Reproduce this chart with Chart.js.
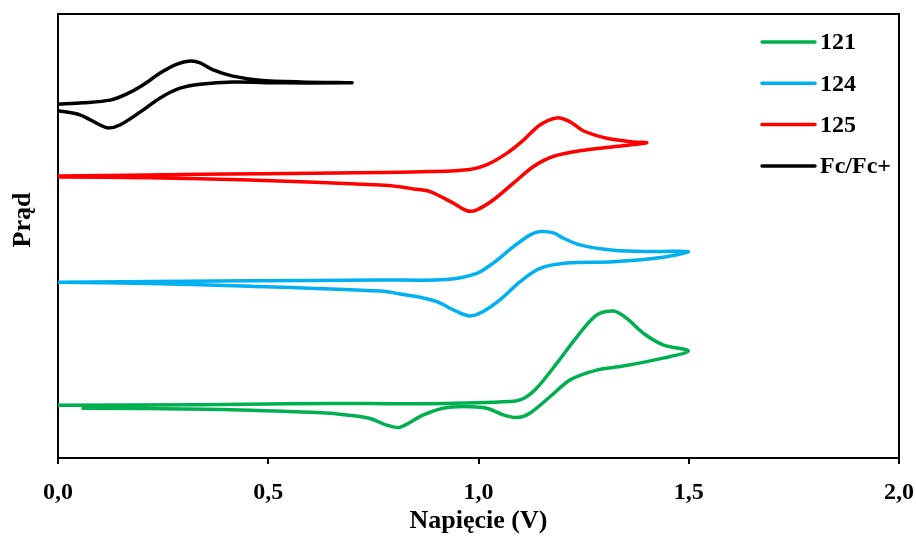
<!DOCTYPE html>
<html>
<head>
<meta charset="utf-8">
<title>Woltamperogramy cykliczne</title>
<script src="https://cdn.jsdelivr.net/npm/chart.js@4.4.1/dist/chart.umd.min.js"></script>
<style>
  html, body { margin: 0; padding: 0; background: #ffffff; }
  #wrap { width: 916px; height: 538px; }
</style>
</head>
<body>
<div id="wrap"><canvas id="cv" width="916" height="538"></canvas></div>
<script>
// Cyclic voltammograms: potential (V) and current (arbitrary units, curves offset vertically).
const potential121 = [0, 0.338, 0.55, 0.742, 0.885, 1.075, 1.107, 1.138, 1.186, 1.234, 1.281, 1.321, 1.352, 1.392, 1.439, 1.499,
                      1.439, 1.344, 1.281, 1.218, 1.170, 1.122, 1.091, 1.059, 1.020, 0.964, 0.916, 0.869, 0.813, 0.782, 0.742, 0.687, 0.647, 0.55, 0.354, 0.056];
const current121   = [11.9, 12.0, 12.2, 12.3, 12.2, 12.7, 13.4, 15.7, 21.3, 27.3, 32.2, 33.1, 31.5, 28.1, 25.5, 24.1,
                      22.5, 20.7, 19.8, 17.6, 13.8, 10.1, 9.1, 9.7, 11.2, 11.6, 11.2, 9.7, 6.9, 7.4, 8.9, 9.7, 10.1, 10.5, 11.0, 11.2];

const potential124 = [0, 0.457, 0.766, 0.924, 0.996, 1.035, 1.083, 1.122, 1.146, 1.178, 1.202, 1.241, 1.321, 1.416, 1.499,
                      1.439, 1.321, 1.210, 1.146, 1.099, 1.051, 1.011, 0.980, 0.948, 0.901, 0.861, 0.829, 0.766, 0.457, 0.219, 0];
const current124   = [39.6, 39.9, 40.1, 40.2, 41.6, 43.9, 47.6, 50.2, 51.0, 50.7, 49.5, 48.0, 46.8, 46.5, 46.5,
                      45.2, 44.2, 43.9, 42.7, 39.7, 35.6, 33.0, 32.0, 33.0, 35.2, 36.2, 36.7, 37.6, 38.7, 39.3, 39.6];

const potential125 = [0, 0.338, 0.766, 0.885, 0.980, 1.019, 1.067, 1.107, 1.146, 1.186, 1.218, 1.249, 1.305, 1.367, 1.400,
                      1.321, 1.241, 1.177, 1.130, 1.083, 1.035, 0.996, 0.972, 0.940, 0.885, 0.845, 0.813, 0.766, 0.457, 0.219, 0];
const current125   = [63.5, 63.9, 64.3, 64.5, 65.0, 66.0, 68.6, 71.6, 75.0, 76.6, 75.7, 73.7, 72.0, 71.2, 71.0,
                      70.1, 69.2, 67.9, 65.6, 61.9, 58.1, 55.9, 55.7, 57.4, 60.0, 60.6, 61.1, 61.5, 62.6, 63.1, 63.3];

const potentialFc  = [0, 0.059, 0.124, 0.164, 0.202, 0.243, 0.283, 0.314, 0.338, 0.369, 0.416, 0.480, 0.576, 0.699,
                      0.528, 0.416, 0.338, 0.290, 0.243, 0.195, 0.147, 0.119, 0.100, 0.052, 0];
const currentFc    = [79.7, 80.0, 80.6, 82.0, 84.0, 86.7, 88.7, 89.4, 89.0, 87.4, 86.0, 85.1, 84.7, 84.5,
                      84.5, 84.7, 84.2, 83.3, 81.1, 77.9, 75.0, 74.3, 75.0, 77.3, 78.2];

const seriesNames  = ['121', '124', '125', 'Fc/Fc+'];
const seriesColors = ['#00B050', '#00B0F0', '#FF0000', '#000000'];
const xTicks       = [0, 0.5, 1.0, 1.5, 2.0];
const xTitle = 'Napięcie (V)';
const yTitle = 'Prąd';

const FONT = "'Liberation Serif', 'Times New Roman', serif";

function pairs(xs, ys) { return xs.map((x, i) => ({ x: x, y: ys[i] })); }

const curves = [
  pairs(potential121, current121),
  pairs(potential124, current124),
  pairs(potential125, current125),
  pairs(potentialFc, currentFc)
];

const datasets = curves.map((pts, i) => ({
  label: seriesNames[i],
  data: pts,
  showLine: true,
  borderColor: seriesColors[i],
  backgroundColor: seriesColors[i],
  borderWidth: 3.5,
  pointRadius: 0,
  pointHoverRadius: 0,
  tension: 0.3,
  fill: false
}));

// Black box around the plot area
const frame = {
  id: 'frame',
  beforeDatasetsDraw(chart) {
    const { ctx, chartArea: a } = chart;
    ctx.save();
    ctx.strokeStyle = '#000';
    ctx.lineWidth = 2;
    ctx.strokeRect(a.left, a.top, a.right - a.left, a.bottom - a.top);
    ctx.restore();
  }
};

// Vertical axis caption and the legend inside the plot area
const labels = {
  id: 'labels',
  afterDraw(chart) {
    const { ctx, chartArea: a } = chart;
    ctx.save();
    ctx.fillStyle = '#000';
    ctx.font = 'bold 26px ' + FONT;
    ctx.textAlign = 'center';
    ctx.textBaseline = 'middle';
    ctx.translate(a.left - 35, (a.top + a.bottom) / 2 - 16);
    ctx.rotate(-Math.PI / 2);
    ctx.fillText(yTitle, 0, 0);
    ctx.restore();

    ctx.save();
    ctx.font = 'bold 24px ' + FONT;
    ctx.textAlign = 'left';
    ctx.textBaseline = 'middle';
    chart.data.datasets.forEach((ds, i) => {
      const y = a.top + 28 + i * 41.3;
      const x0 = a.right - 137;
      ctx.strokeStyle = ds.borderColor;
      ctx.lineWidth = 3.5;
      ctx.lineCap = 'round';
      ctx.beginPath();
      ctx.moveTo(x0, y);
      ctx.lineTo(x0 + 53, y);
      ctx.stroke();
      ctx.fillStyle = '#000';
      ctx.fillText(ds.label, x0 + 58, y + 1);
    });
    ctx.restore();
  }
};

new Chart(document.getElementById('cv').getContext('2d'), {
  type: 'scatter',
  data: { datasets: datasets },
  options: {
    responsive: false,
    animation: false,
    devicePixelRatio: 1,
    layout: { padding: { left: 0, right: 17, top: 14, bottom: 0 } },
    plugins: { legend: { display: false }, tooltip: { enabled: false } },
    events: [],
    scales: {
      x: {
        type: 'linear',
        min: 0,
        max: 2,
        afterFit(scale) {
          scale.height = 80;
          scale.paddingLeft = 0;
          scale.paddingRight = 0;
        },
        afterBuildTicks(scale) { scale.ticks = xTicks.map(v => ({ value: v })); },
        ticks: {
          color: '#000',
          font: { family: FONT, size: 24, weight: 'bold', lineHeight: 1.2 },
          padding: 14,
          maxRotation: 0,
          autoSkip: false,
          callback: v => v.toFixed(1).replace('.', ',')
        },
        grid: { display: true, drawOnChartArea: false, drawTicks: true, tickLength: 6, color: '#000', lineWidth: 2 },
        border: { display: false },
        title: {
          display: true,
          text: xTitle,
          color: '#000',
          font: { family: FONT, size: 26, weight: 'bold', lineHeight: 1.2 },
          padding: { top: 0, bottom: 1 }
        }
      },
      y: {
        type: 'linear',
        min: 0,
        max: 100,
        afterFit(scale) { scale.width = 58; },
        ticks: { display: false },
        grid: { display: false },
        border: { display: false },
        title: { display: false }
      }
    }
  },
  plugins: [frame, labels]
});
</script>
</body>
</html>
